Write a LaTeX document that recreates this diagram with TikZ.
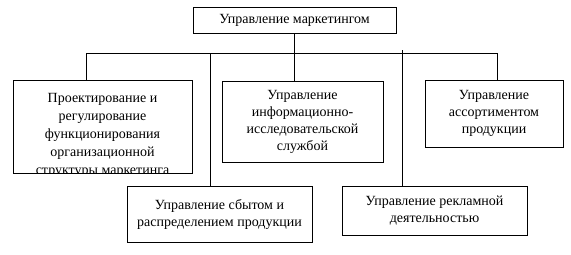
\documentclass[tikz,border=0pt]{standalone}
\usepackage{fontspec}
\setmainfont{Liberation Serif}
\newfontfamily\boxfont{Liberation Serif}
\usetikzlibrary{positioning}
\tikzset{
  unit/.style={draw,line width=0.6pt,align=center,inner sep=0pt,
    font=\boxfont\fontsize{10.5}{12.75}\selectfont},
  link/.style={line width=0.6pt}
}

\begin{document}
\begin{tikzpicture}[x=0.75pt,y=-0.75pt]
  \useasboundingbox (0,0) rectangle (571,254);

  %% head
  \node[unit,minimum width=152.25pt,minimum height=19.5pt] (head) at (294.5,20)
    {Управление маркетингом};

  %% upper row
  \node[draw,line width=0.6pt,minimum width=134.25pt,minimum height=69.75pt] (design) at (102.5,126.5) {};
  \begin{scope}
    \clip (design.north west) rectangle (design.south east);
    \node[unit,draw=none,anchor=north,font=\boxfont\fontsize{10.5}{13.5}\selectfont]
      (designtext) at (102.5,93)
      {Проектирование и\\регулирование\\функционирования\\организационной\\структуры маркетинга};
  \end{scope}
  \node[unit,minimum width=120.75pt,minimum height=60.75pt] (research) at (302.5,122)
    {Управление\\информационно-\\исследовательской\\службой};
  \node[unit,minimum width=103.5pt,minimum height=50.25pt] (range) at (494,113.5)
    {Управление\\ассортиментом\\продукции};

  %% lower row
  \node[unit,minimum width=138.75pt,minimum height=42pt] (sales) at (219.5,214)
    {Управление сбытом и\\распределением продукции};
  \node[unit,minimum width=138.75pt,minimum height=36.75pt] (promo) at (434.5,210.5)
    {Управление рекламной\\деятельностью};

  %% bus
  \coordinate (busL) at (86,53);
  \coordinate (busS) at (210,53);
  \coordinate (busA) at (402,50);
  \coordinate (busR) at (497,53);
  \draw[link] (busL) -- (busR);

  %% links
  \draw[link] (head.south) -- (head.south |- research.north);
  \draw[link] (busL) -- (busL |- design.north);
  \draw[link] (busR) -- (busR |- range.north);
  \draw[link] (busS) -- (busS |- sales.north);
  \draw[link] (busA) -- (busA |- promo.north);
\end{tikzpicture}
\end{document}
